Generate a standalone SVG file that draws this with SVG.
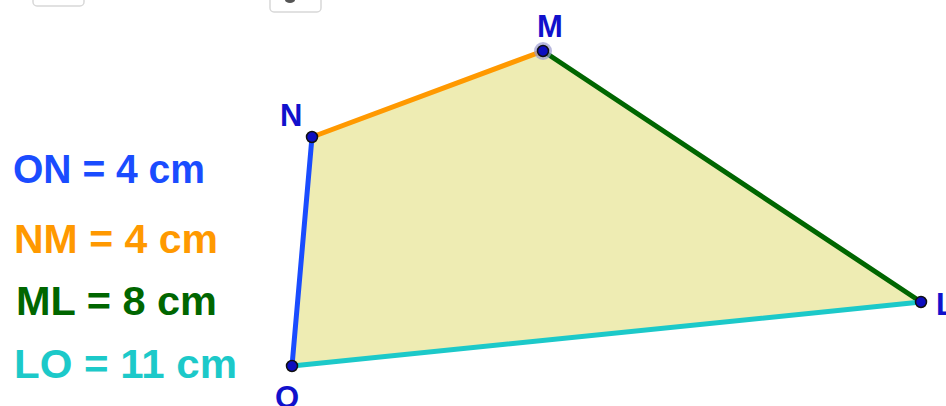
<svg xmlns="http://www.w3.org/2000/svg" width="946" height="406" viewBox="0 0 946 406">
<style>
.btn{fill:#fff;stroke:#d8d8d8;stroke-width:1.5}
.seg{stroke-width:5;stroke-linecap:round;fill:none}
.pt{fill:#0d0dbf;stroke:#111;stroke-width:1.5}
.lbl{font-family:"Liberation Sans",Arial,sans-serif;font-size:31px;font-weight:bold;fill:#1111cc}
.eq{font-family:"Liberation Sans",Arial,sans-serif;font-size:40px;font-weight:bold}
</style>
<rect width="946" height="406" fill="#fff"/>
<g id="toolbar">
<rect class="btn" x="33" y="-8" width="51" height="14" rx="4"/>
<rect class="btn" x="270" y="-8" width="51" height="20" rx="4"/>
<ellipse cx="290" cy="0" rx="5" ry="3" fill="#555"/>
</g>
<g id="quad">
<polygon points="292,366 312,137 543,51 921,302" fill="#eeecb3"/>
</g>
<g id="connectors">
<line class="seg" x1="292" y1="366" x2="312" y2="137" stroke="#1a4cff"/>
<line class="seg" x1="312" y1="137" x2="543" y2="51" stroke="#ff9900"/>
<line class="seg" x1="543" y1="51" x2="921" y2="302" stroke="#006600"/>
<line class="seg" x1="921" y1="302" x2="292" y2="366" stroke="#1cc9c9"/>
</g>
<g id="M"><circle cx="543" cy="51" r="9" fill="#9a9ad0" opacity="0.7"/><circle class="pt" cx="543" cy="51" r="5.5"/><text class="lbl" x="537" y="37">M</text></g>
<g id="N"><circle class="pt" cx="312" cy="137" r="5.5"/><text class="lbl" x="280" y="126">N</text></g>
<g id="O"><circle class="pt" cx="292" cy="366" r="5.5"/><text class="lbl" x="275" y="408">O</text></g>
<g id="L"><circle class="pt" cx="921" cy="302" r="5.5"/><text class="lbl" x="936" y="315">L</text></g>
<g id="legend">
<text class="eq" x="13" y="183" fill="#1a4cff" textLength="192" lengthAdjust="spacingAndGlyphs">ON = 4 cm</text>
<text class="eq" x="14" y="253" fill="#ff9900" textLength="204" lengthAdjust="spacingAndGlyphs">NM = 4 cm</text>
<text class="eq" x="16" y="315" fill="#006600" textLength="201" lengthAdjust="spacingAndGlyphs">ML = 8 cm</text>
<text class="eq" x="14" y="378" fill="#1cc9c9" textLength="223" lengthAdjust="spacingAndGlyphs">LO = 11 cm</text>
</g>
</svg>
